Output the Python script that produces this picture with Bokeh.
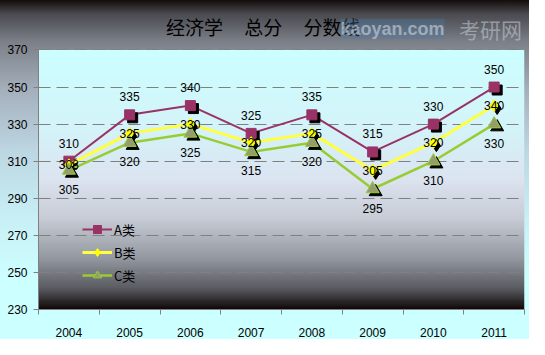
import numpy as np
from bokeh.plotting import figure
from bokeh.models import (ColumnDataSource, FixedTicker, LabelSet, Label,
                          Legend, LegendItem, Range1d)
from bokeh.transform import dodge
from bokeh.core.properties import value
from bokeh.embed import file_html
from bokeh.resources import INLINE

# ---------------- data ----------------
years = ["2004", "2005", "2006", "2007", "2008", "2009", "2010", "2011"]
a_scores = [310, 335, 340, 325, 335, 315, 330, 350]
b_scores = [308, 325, 330, 320, 325, 305, 320, 340]
c_scores = [305, 320, 325, 315, 320, 295, 310, 330]
y_ticks = [230, 250, 270, 290, 310, 330, 350, 370]
series_names = ["A类", "B类", "C类"]
title_text = "经济学    总分    分数线"
watermark_parts = ["kaoyan.com", "考研网"]

pos = [i + 0.5 for i in range(len(years))]
src = ColumnDataSource(dict(
    x=pos, a=a_scores, b=b_scores, c=c_scores,
    al=[str(v) for v in a_scores],
    bl=[str(v) for v in b_scores],
    cl=[str(v) for v in c_scores],
))

FONT = "Liberation Sans"
CJK = "Noto Sans CJK SC"

W, Hh = 529, 339
B_LEFT, B_RIGHT, B_TOP, B_BOTTOM = 38, 5, 10, 26
CHART_TOP_GAP = 40           # px between frame top and the 370 line (room for title)
frame_h = Hh - B_TOP - B_BOTTOM
y0, y1 = y_ticks[0], y_ticks[-1]
y_end = (y1 - y0 * CHART_TOP_GAP / frame_h) / (1 - CHART_TOP_GAP / frame_h)

p = figure(width=W, height=Hh, output_backend="svg", toolbar_location=None,
           x_range=Range1d(0, len(years)), y_range=Range1d(y0, y_end),
           min_border_left=B_LEFT, min_border_right=B_RIGHT, min_border_top=B_TOP,
           min_border_bottom=B_BOTTOM)
p.border_fill_color = None
p.background_fill_color = None
p.outline_line_color = None
p.styles = {"background": "linear-gradient(to bottom, #140c0c 0px, #4a4a50 14px, "
                          "#7c8088 42px, #a4b0bc 90px, #bcd6e2 150px, #c8f0f6 220px, "
                          "#ccffff 280px, #ccffff 100%)"}

# plot-area gradient (styling)
stops = [(0.0, (16, 8, 8)), (0.08, (90, 92, 98)), (0.2, (150, 154, 162)),
         (0.35, (200, 204, 214)), (0.5, (220, 228, 240)), (0.7, (212, 244, 250)),
         (1.0, (204, 255, 255))]
H = 300
t = np.linspace(0, 1, H)
img = np.empty((H, 1), dtype=np.uint32)
view = img.view(dtype=np.uint8).reshape((H, 1, 4))
st = np.array([s[0] for s in stops])
for ch in range(3):
    view[:, 0, ch] = np.interp(t, st, [s[1][ch] for s in stops]).astype(np.uint8)
view[:, 0, 3] = 255
p.image_rgba(image=[img], x=0, y=y0, dw=len(years), dh=y1 - y0, level="image")

# grid
p.xgrid.visible = False
p.ygrid.ticker = FixedTicker(ticks=y_ticks)
p.ygrid.grid_line_color = "#808080"
p.ygrid.grid_line_dash = "12 6"
p.ygrid.grid_line_width = 1

# axes
p.yaxis.ticker = FixedTicker(ticks=y_ticks)
p.yaxis.bounds = (y0, y1)
p.yaxis.major_tick_out = 5
p.yaxis.major_tick_in = 0
p.yaxis.minor_tick_out = 0
p.yaxis.minor_tick_in = 0
p.yaxis.axis_line_color = "#808080"
p.yaxis.major_tick_line_color = "#808080"
p.yaxis.major_label_text_font = FONT
p.yaxis.major_label_text_font_size = "12px"
p.yaxis.major_label_text_color = "black"
p.yaxis.major_label_standoff = 6

p.xaxis.ticker = FixedTicker(ticks=pos, minor_ticks=list(range(len(years) + 1)))
p.xaxis.major_label_overrides = {pos[i]: years[i] for i in range(len(years))}
p.xaxis.major_tick_out = 0
p.xaxis.major_tick_in = 0
p.xaxis.minor_tick_out = 5
p.xaxis.minor_tick_in = 0
p.xaxis.minor_tick_line_color = "#808080"
p.xaxis.axis_line_color = "#808080"
p.xaxis.major_label_text_font = FONT
p.xaxis.major_label_text_font_size = "12px"
p.xaxis.major_label_text_color = "black"
p.xaxis.major_label_standoff = 13

# series
styles = [
    ("a", "#993366", 2, "square", 10, "#993366", "#993366"),
    ("b", "#ffff40", 3, "diamond", 12, "#ffff00", "#ffff00"),
    ("c", "#99cc33", 2.5, "triangle", 13, "#959d6c", "#99cc33"),
]
items = []
for (col, lc, lw, mk, ms, fc, mlc), name in zip(styles, series_names):
    ln = p.line("x", col, source=src, line_color=lc, line_width=lw)
    p.scatter(x=dodge("x", 0.05), y=dodge(col, -1.6), source=src, marker=mk, size=ms,
              fill_color="black", line_color="black")
    sc = p.scatter("x", col, source=src, marker=mk, size=ms, fill_color=fc, line_color=mlc)
    items.append(LegendItem(label=name, renderers=[ln, sc]))

# data labels
common = dict(source=src, text_font=value(FONT), text_font_size=value("12px"),
              text_color="black", text_align="center", text_baseline="middle")
p.add_layout(LabelSet(x="x", y="a", text="al", y_offset=18, **common))
p.add_layout(LabelSet(x="x", y="c", text="cl", y_offset=-19, **common))
p.add_layout(LabelSet(x="x", y="b", text="bl", y_offset=0, **common))

legend = Legend(items=items, location=(44, 24), background_fill_alpha=0,
                border_line_alpha=0, label_text_font=CJK, label_text_font_size="13px",
                label_text_color="black",
                glyph_width=30, glyph_height=20, label_height=20, spacing=3,
                padding=0, margin=0, label_standoff=2)
p.add_layout(legend)

# title and watermark, in the band above the 370 line
p.add_layout(Label(x=3.7, y=382.5, text=title_text.replace("    ", "\u00a0" * 5),
                   text_font=CJK, text_font_size="19px", text_color="black",
                   text_align="center", text_baseline="middle"))
p.add_layout(Label(x=4.97, y=381.5, text=watermark_parts[0], text_font=FONT,
                   text_font_size="18px", text_font_style="bold", text_color="#d8e0e8",
                   text_alpha=0.55, text_baseline="middle",
                   background_fill_color="#4a7aa8", background_fill_alpha=0.35))
p.add_layout(Label(x=6.92, y=381.5, text=watermark_parts[1], text_font=CJK,
                   text_font_size="21px", text_color="#c8d0d8", text_alpha=0.55,
                   text_baseline="middle"))

open("out.html", "w").write(file_html(p, INLINE))
